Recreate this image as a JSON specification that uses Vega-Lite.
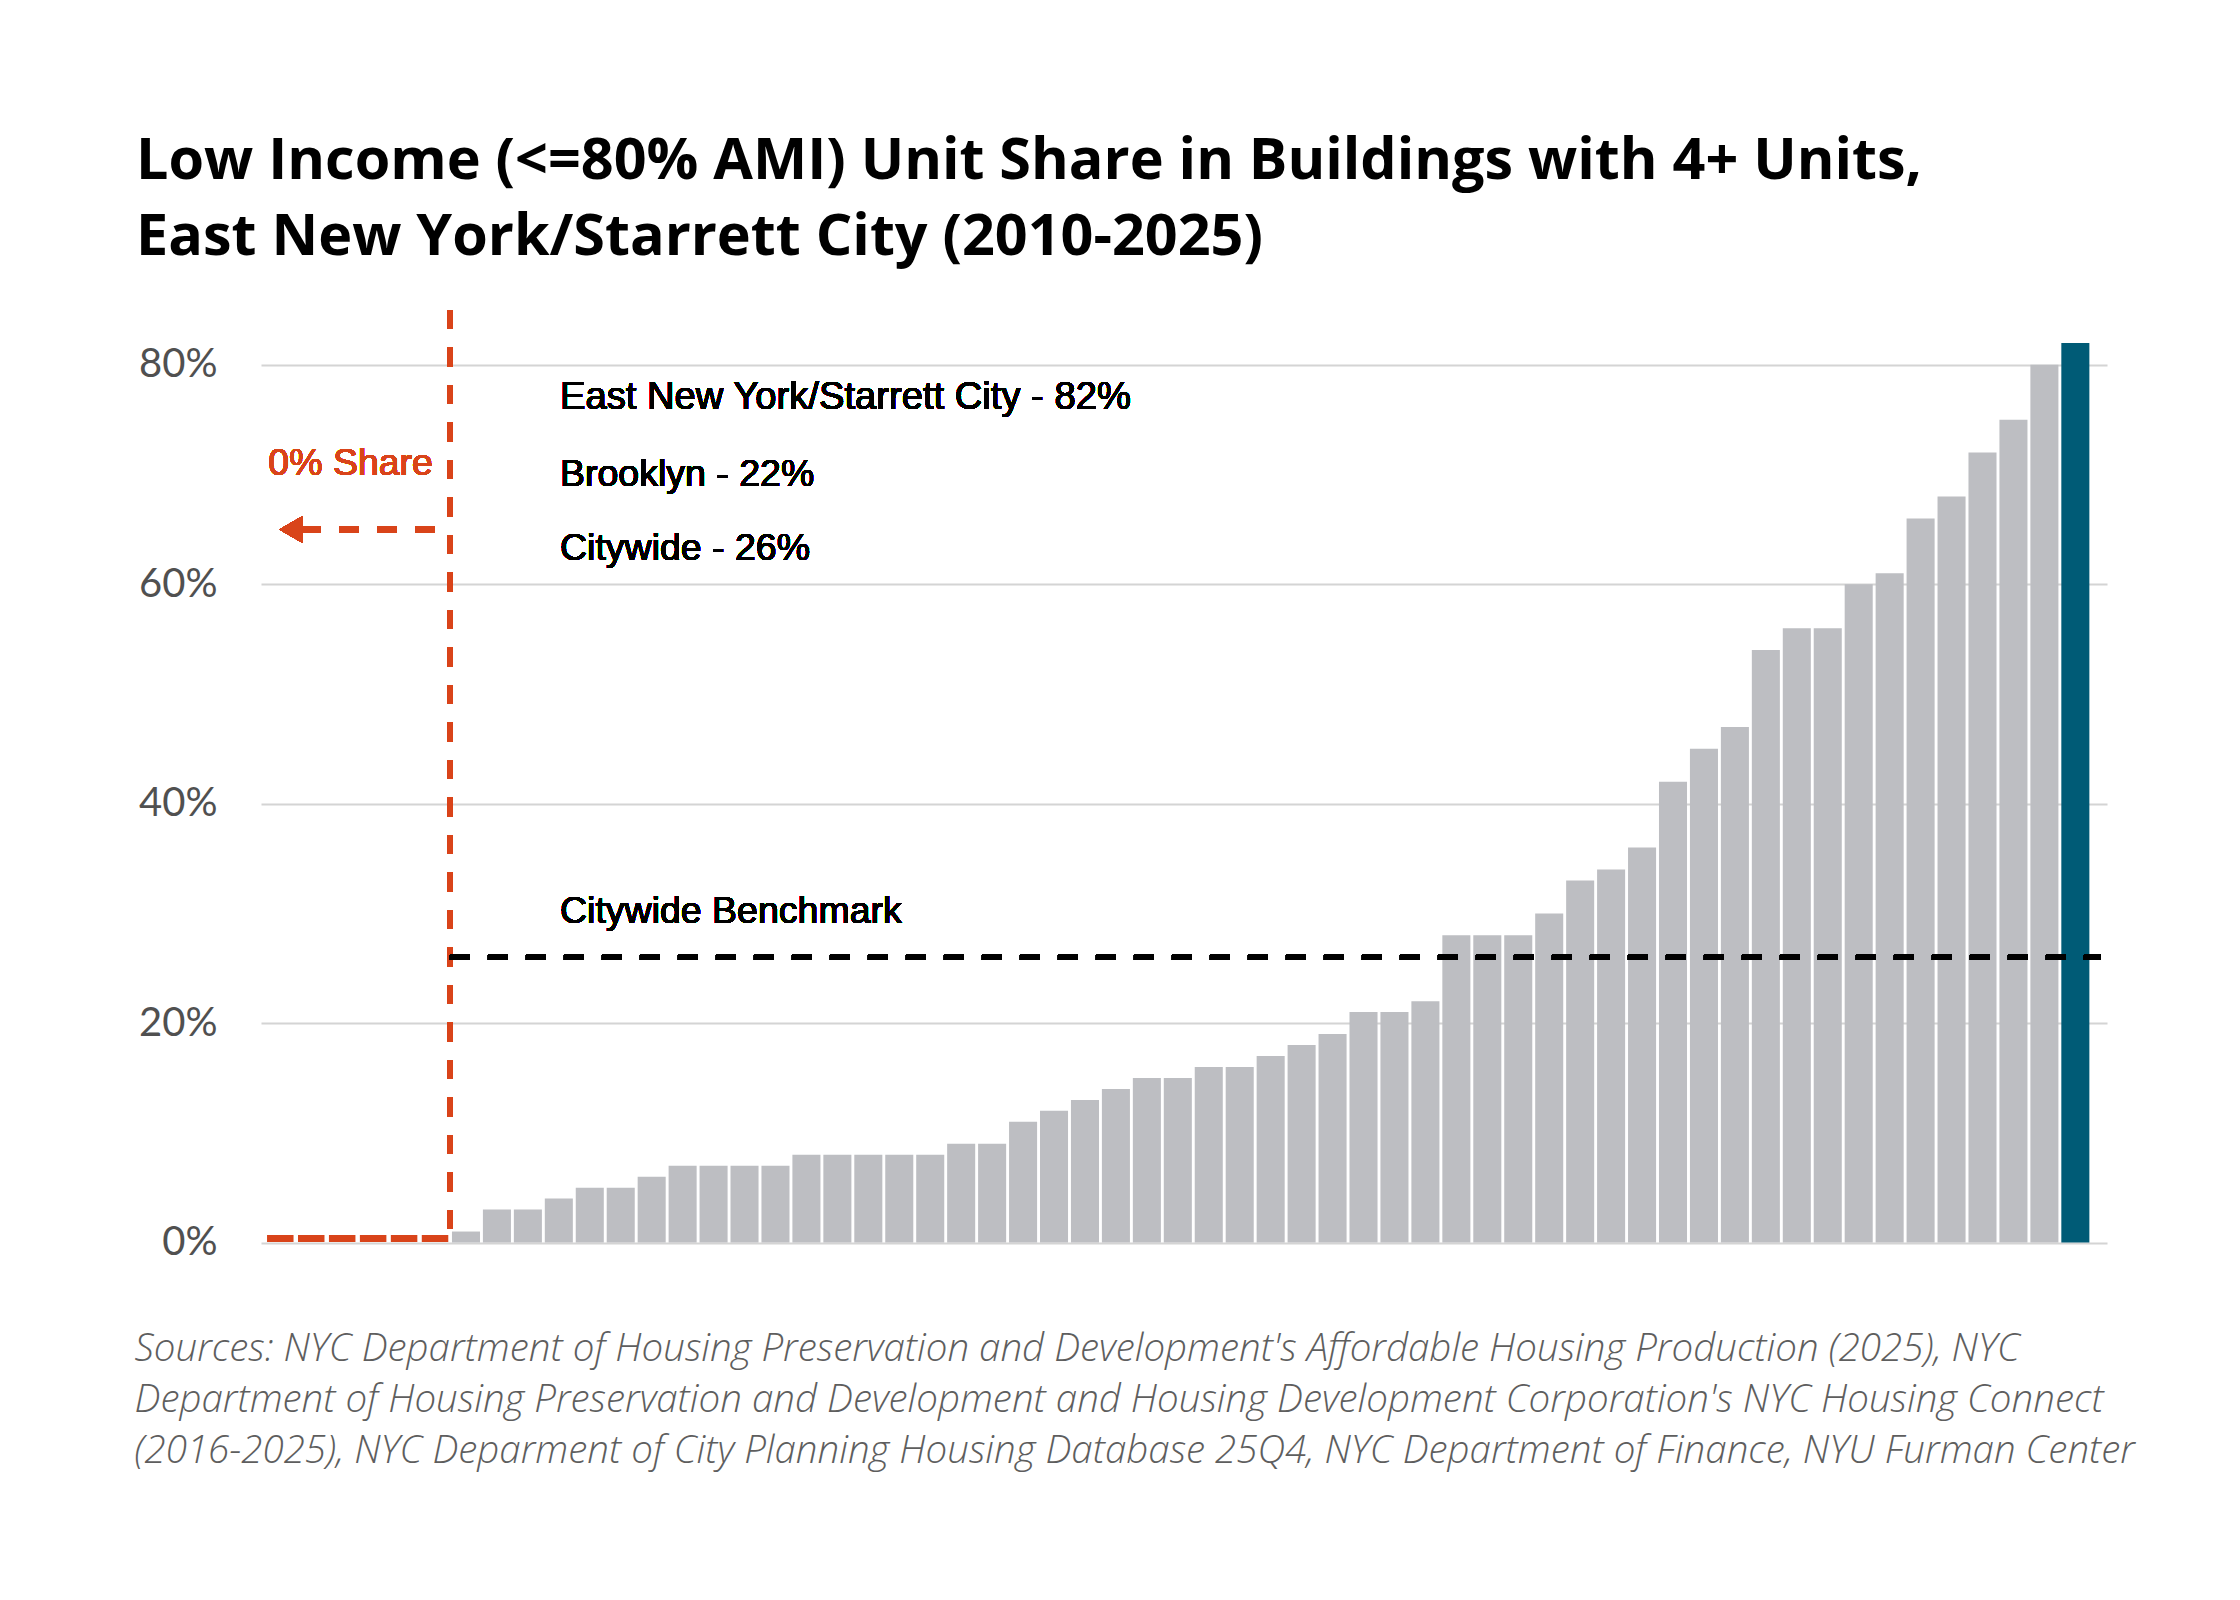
{
  "$schema": "https://vega.github.io/schema/vega-lite/v6.json",
  "width": 1846,
  "height": 932.5,
  "autosize": {"type": "none"},
  "padding": {"left": 261, "top": 310, "right": 133, "bottom": 357.5},
  "background": "white",
  "config": {"view": {"stroke": null}},
  "title": {
    "text": ["Low Income (<=80% AMI) Unit Share in Buildings with 4+ Units,", "East New York/Starrett City (2010-2025)"],
    "anchor": "start",
    "dx": 2,
    "dy": 62,
    "font": "Open Sans",
    "fontSize": 57.5,
    "fontWeight": "bold",
    "color": "#000000",
    "lineHeight": 76,
    "baseline": "bottom",
    "offset": 45
  },
  "data": {
    "values": [
      {"district": "1", "share": 0, "area": "Other"},
      {"district": "2", "share": 0, "area": "Other"},
      {"district": "3", "share": 0, "area": "Other"},
      {"district": "4", "share": 0, "area": "Other"},
      {"district": "5", "share": 0, "area": "Other"},
      {"district": "6", "share": 0, "area": "Other"},
      {"district": "7", "share": 1, "area": "Other"},
      {"district": "8", "share": 3, "area": "Other"},
      {"district": "9", "share": 3, "area": "Other"},
      {"district": "10", "share": 4, "area": "Other"},
      {"district": "11", "share": 5, "area": "Other"},
      {"district": "12", "share": 5, "area": "Other"},
      {"district": "13", "share": 6, "area": "Other"},
      {"district": "14", "share": 7, "area": "Other"},
      {"district": "15", "share": 7, "area": "Other"},
      {"district": "16", "share": 7, "area": "Other"},
      {"district": "17", "share": 7, "area": "Other"},
      {"district": "18", "share": 8, "area": "Other"},
      {"district": "19", "share": 8, "area": "Other"},
      {"district": "20", "share": 8, "area": "Other"},
      {"district": "21", "share": 8, "area": "Other"},
      {"district": "22", "share": 8, "area": "Other"},
      {"district": "23", "share": 9, "area": "Other"},
      {"district": "24", "share": 9, "area": "Other"},
      {"district": "25", "share": 11, "area": "Other"},
      {"district": "26", "share": 12, "area": "Other"},
      {"district": "27", "share": 13, "area": "Other"},
      {"district": "28", "share": 14, "area": "Other"},
      {"district": "29", "share": 15, "area": "Other"},
      {"district": "30", "share": 15, "area": "Other"},
      {"district": "31", "share": 16, "area": "Other"},
      {"district": "32", "share": 16, "area": "Other"},
      {"district": "33", "share": 17, "area": "Other"},
      {"district": "34", "share": 18, "area": "Other"},
      {"district": "35", "share": 19, "area": "Other"},
      {"district": "36", "share": 21, "area": "Other"},
      {"district": "37", "share": 21, "area": "Other"},
      {"district": "38", "share": 22, "area": "Other"},
      {"district": "39", "share": 28, "area": "Other"},
      {"district": "40", "share": 28, "area": "Other"},
      {"district": "41", "share": 28, "area": "Other"},
      {"district": "42", "share": 30, "area": "Other"},
      {"district": "43", "share": 33, "area": "Other"},
      {"district": "44", "share": 34, "area": "Other"},
      {"district": "45", "share": 36, "area": "Other"},
      {"district": "46", "share": 42, "area": "Other"},
      {"district": "47", "share": 45, "area": "Other"},
      {"district": "48", "share": 47, "area": "Other"},
      {"district": "49", "share": 54, "area": "Other"},
      {"district": "50", "share": 56, "area": "Other"},
      {"district": "51", "share": 56, "area": "Other"},
      {"district": "52", "share": 60, "area": "Other"},
      {"district": "53", "share": 61, "area": "Other"},
      {"district": "54", "share": 66, "area": "Other"},
      {"district": "55", "share": 68, "area": "Other"},
      {"district": "56", "share": 72, "area": "Other"},
      {"district": "57", "share": 75, "area": "Other"},
      {"district": "58", "share": 80, "area": "Other"},
      {"district": "59", "share": 82, "area": "East New York/Starrett City"}
    ]
  },
  "encoding": {
    "x": {
      "field": "district",
      "type": "nominal",
      "sort": null,
      "scale": {"paddingInner": 0.094, "paddingOuter": 0.37, "align": 0.23},
      "axis": {
        "labels": false,
        "ticks": false,
        "domain": false,
        "grid": false,
        "title": [
          "Sources: NYC Department of Housing Preservation and Development's Affordable Housing Production (2025), NYC",
          "Department of Housing Preservation and Development and Housing Development Corporation's NYC Housing Connect",
          "\u2005(2016-2025), NYC Deparment of City Planning Housing Database 25Q4, NYC Department of Finance, NYU Furman Center"
        ],
        "titleFont": "Open Sans",
        "titleFontStyle": "italic",
        "titleFontWeight": 300,
        "titleFontSize": 38.5,
        "titleColor": "#5e5e5e",
        "titleAnchor": "start",
        "titleAlign": "left",
        "titleX": -127,
        "titleY": 117.5,
        "titleBaseline": "alphabetic",
        "titleLineHeight": 51
      }
    },
    "y": {
      "field": "share",
      "type": "quantitative",
      "scale": {"domain": [0, 85], "nice": false},
      "axis": {
        "values": [0, 20, 40, 60, 80],
        "labelExpr": "datum.value + '%'",
        "title": null,
        "domain": false,
        "ticks": false,
        "grid": true,
        "gridColor": "#d4d4d4",
        "gridWidth": 2,
        "labelFont": "Lato",
        "labelFontSize": 40,
        "labelColor": "#505050",
        "labelPadding": 44
      }
    }
  },
  "layer": [
    {
      "mark": {"type": "bar"},
      "encoding": {
        "color": {
          "condition": {"test": "datum.area === 'East New York/Starrett City'", "value": "#005b76"},
          "value": "#bdbec2"
        }
      }
    },
    {
      "transform": [{"filter": "datum.share === 0"}],
      "mark": {"type": "tick", "color": "#d9441a", "thickness": 7, "size": 26.5, "yOffset": -4, "opacity": 1}
    },
    {
      "mark": {"type": "rule", "color": "#d9441a", "strokeWidth": 4.5, "strokeDash": [19, 18.5], "xOffset": -2},
      "encoding": {
        "x": {"datum": "7", "type": "nominal", "bandPosition": 0},
        "y": null
      }
    },
    {
      "mark": {"type": "rule", "color": "#000000", "strokeWidth": 5.5, "strokeDash": [20, 18], "xOffset": -2, "x2Offset": 11},
      "encoding": {
        "x": {"datum": "7", "type": "nominal", "bandPosition": 0},
        "x2": {"datum": "59", "bandPosition": 1},
        "y": {"datum": 26, "type": "quantitative"}
      }
    },
    {
      "mark": {"type": "rule", "color": "#d9441a", "strokeWidth": 6.5, "strokeDash": [19.5, 18.5], "xOffset": -17, "x2Offset": 22},
      "encoding": {
        "x": {"datum": "7", "type": "nominal", "bandPosition": 0},
        "x2": {"datum": "1", "bandPosition": 0},
        "y": {"datum": 65, "type": "quantitative"}
      }
    },
    {
      "mark": {"type": "point", "shape": "triangle-left", "size": 729, "filled": true, "color": "#d9441a", "opacity": 1, "xOffset": 24.8},
      "encoding": {
        "x": {"datum": "1", "type": "nominal", "bandPosition": 0},
        "y": {"datum": 65, "type": "quantitative"}
      }
    },
    {
      "mark": {"type": "text", "text": "0% Share", "font": "Arial", "fontWeight": "normal", "fontSize": 37.5, "color": "#d9441a", "align": "right", "baseline": "alphabetic", "dx": -19},
      "encoding": {
        "x": {"datum": "7", "type": "nominal", "bandPosition": 0},
        "y": {"datum": 69.94, "type": "quantitative"}
      }
    },
    {
      "mark": {"type": "text", "text": "East New York/Starrett City - 82%", "font": "Arial", "fontWeight": "normal", "fontSize": 38.2, "color": "#000000", "align": "left", "baseline": "alphabetic", "dx": 108},
      "encoding": {
        "x": {"datum": "7", "type": "nominal", "bandPosition": 0},
        "y": {"datum": 75.95, "type": "quantitative"}
      }
    },
    {
      "mark": {"type": "text", "text": "Brooklyn - 22%", "font": "Arial", "fontWeight": "normal", "fontSize": 37.5, "color": "#000000", "align": "left", "baseline": "alphabetic", "dx": 108},
      "encoding": {
        "x": {"datum": "7", "type": "nominal", "bandPosition": 0},
        "y": {"datum": 69.0, "type": "quantitative"}
      }
    },
    {
      "mark": {"type": "text", "text": "Citywide - 26%", "font": "Arial", "fontWeight": "normal", "fontSize": 37.5, "color": "#000000", "align": "left", "baseline": "alphabetic", "dx": 108},
      "encoding": {
        "x": {"datum": "7", "type": "nominal", "bandPosition": 0},
        "y": {"datum": 62.2, "type": "quantitative"}
      }
    },
    {
      "mark": {"type": "text", "text": "Citywide Benchmark", "font": "Arial", "fontWeight": "normal", "fontSize": 37.5, "color": "#000000", "align": "left", "baseline": "alphabetic", "dx": 108},
      "encoding": {
        "x": {"datum": "7", "type": "nominal", "bandPosition": 0},
        "y": {"datum": 29.1, "type": "quantitative"}
      }
    }
  ]
}
